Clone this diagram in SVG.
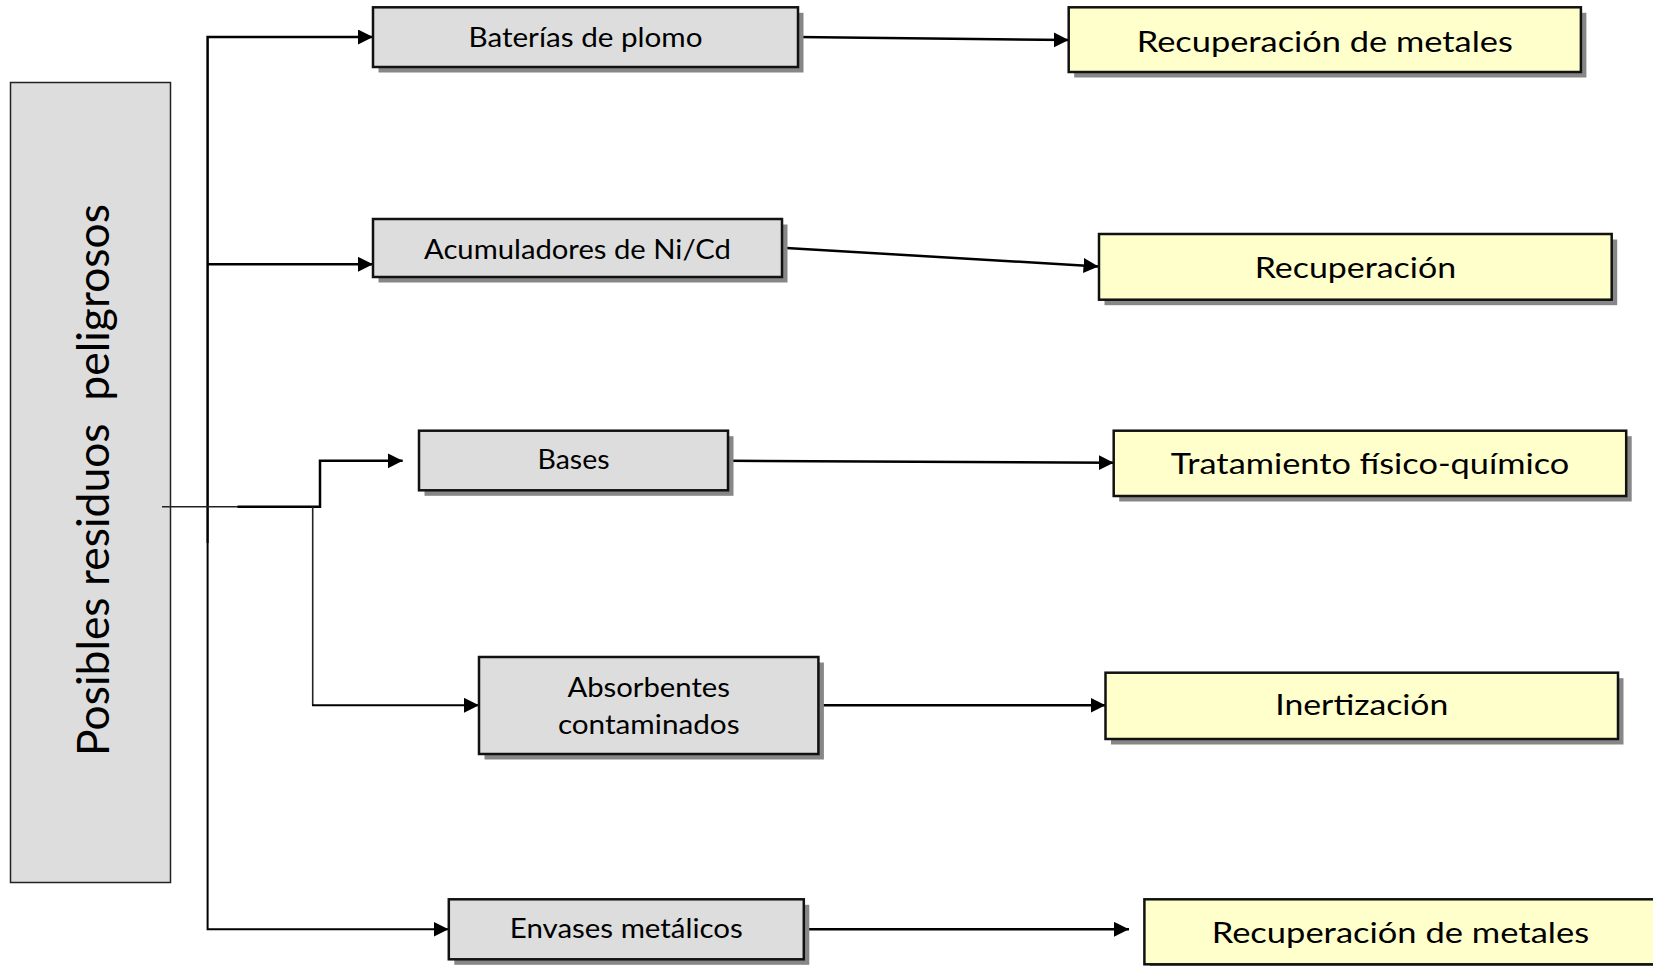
<svg xmlns="http://www.w3.org/2000/svg" width="1653" height="966" viewBox="0 0 1653 966">
  <style>
    .shadow { fill: #878787; }
    .src { fill: #dddddd; stroke: #111111; stroke-width: 2.5; }
    .dst { fill: #ffffcc; stroke: #111111; stroke-width: 2.5; }
    .root { fill: #dddddd; stroke: #222222; stroke-width: 1.5; }
    .t { font-family: Lato, Carlito, "Liberation Sans", sans-serif; fill: #000000; text-anchor: middle; }
    .ts { font-size: 26px; }
    .td { font-size: 29px; }
    .tr { font-size: 45px; }
    .wire { fill: none; stroke: #000000; stroke-width: 2.5; }
    .thin { fill: none; stroke: #222222; stroke-width: 1.6; }
  </style>
  <defs>
    <marker id="arrow" markerUnits="userSpaceOnUse" markerWidth="16" markerHeight="16" refX="15" refY="7.5" orient="auto">
      <path d="M0,0 L15,7.5 L0,15 Z" fill="#000000"/>
    </marker>
  </defs>

  <rect width="1653" height="966" fill="#ffffff"/>

  <!-- root column -->
  <g id="posibles-residuos">
    <rect class="root" x="10.5" y="82.5" width="160" height="800"/>
    <text class="t tr" xml:space="preserve" transform="translate(108.5,480) rotate(-90)" textLength="552" lengthAdjust="spacingAndGlyphs">Posibles residuos  peligrosos</text>
  </g>

  <!-- connectors -->
  <g id="connectors">
    <path class="wire" d="M207.6,543 V37 H373" marker-end="url(#arrow)"/>
    <path class="wire" d="M207.6,264.3 H373" marker-end="url(#arrow)"/>
    <path class="wire" d="M207.6,543 V730" style="stroke-width:2"/>
    <path class="wire" d="M207.6,730 V929.3 H448.5" style="stroke-width:2" marker-end="url(#arrow)"/>
    <path class="thin" d="M162,506.7 H238"/>
    <path class="wire" d="M237.5,506.7 H320 V460.8 H402.7" marker-end="url(#arrow)"/>
    <path class="thin" d="M312.7,506.7 V705.3"/>
    <path class="wire" d="M312,705.3 H479" style="stroke-width:2" marker-end="url(#arrow)"/>
    <path class="wire" d="M798,37 L1068.7,40" marker-end="url(#arrow)"/>
    <path class="wire" d="M782,247.7 L1098.5,266.5" marker-end="url(#arrow)"/>
    <path class="wire" d="M728,460.7 L1113.7,462.7" marker-end="url(#arrow)"/>
    <path class="wire" d="M818.4,705.3 H1105.5" marker-end="url(#arrow)"/>
    <path class="wire" d="M797,929.3 H1129" marker-end="url(#arrow)"/>
  </g>

  <!-- waste items -->
  <g id="baterias-plomo">
    <rect class="shadow" x="378.5" y="12.8" width="425" height="59.7"/>
    <rect class="src" x="373" y="7.3" width="425" height="59.7"/>
    <text class="t ts" x="585.5" y="46.7" textLength="234" lengthAdjust="spacingAndGlyphs">Baterías de plomo</text>
  </g>
  <g id="acumuladores-nicd">
    <rect class="shadow" x="378.5" y="224.5" width="409" height="58"/>
    <rect class="src" x="373" y="219" width="409" height="58"/>
    <text class="t ts" x="577.5" y="259.3" textLength="307" lengthAdjust="spacingAndGlyphs">Acumuladores de Ni/Cd</text>
  </g>
  <g id="bases">
    <rect class="shadow" x="424.5" y="436.2" width="309" height="59.6"/>
    <rect class="src" x="419" y="430.7" width="309" height="59.6"/>
    <text class="t ts" x="573.5" y="469.3" textLength="72" lengthAdjust="spacingAndGlyphs">Bases</text>
  </g>
  <g id="absorbentes-contaminados">
    <rect class="shadow" x="484.5" y="662.5" width="339.4" height="97"/>
    <rect class="src" x="479" y="657" width="339.4" height="97"/>
    <text class="t ts" x="648.7" y="696.7" textLength="162.5" lengthAdjust="spacingAndGlyphs">Absorbentes</text>
    <text class="t ts" x="648.7" y="734.3" textLength="181.6" lengthAdjust="spacingAndGlyphs">contaminados</text>
  </g>
  <g id="envases-metalicos">
    <rect class="shadow" x="454.3" y="904.8" width="355" height="60"/>
    <rect class="src" x="448.8" y="899.3" width="355" height="60"/>
    <text class="t ts" x="626.3" y="938.3" textLength="233" lengthAdjust="spacingAndGlyphs">Envases metálicos</text>
  </g>

  <!-- treatments -->
  <g id="recuperacion-metales-1">
    <rect class="shadow" x="1074.2" y="12.8" width="512.2" height="64.7"/>
    <rect class="dst" x="1068.7" y="7.3" width="512.2" height="64.7"/>
    <text class="t td" x="1324.8" y="51.7" textLength="376" lengthAdjust="spacingAndGlyphs">Recuperación de metales</text>
  </g>
  <g id="recuperacion">
    <rect class="shadow" x="1104.5" y="239.5" width="512.7" height="65.7"/>
    <rect class="dst" x="1099" y="234" width="512.7" height="65.7"/>
    <text class="t td" x="1355.4" y="278.3" textLength="201.4" lengthAdjust="spacingAndGlyphs">Recuperación</text>
  </g>
  <g id="tratamiento-fisico-quimico">
    <rect class="shadow" x="1119.2" y="436.2" width="512.5" height="65.3"/>
    <rect class="dst" x="1113.7" y="430.7" width="512.5" height="65.3"/>
    <text class="t td" x="1370" y="474" textLength="398.4" lengthAdjust="spacingAndGlyphs">Tratamiento físico-químico</text>
  </g>
  <g id="inertizacion">
    <rect class="shadow" x="1111" y="678.2" width="512.5" height="66.3"/>
    <rect class="dst" x="1105.5" y="672.7" width="512.5" height="66.3"/>
    <text class="t td" x="1361.8" y="715" textLength="173" lengthAdjust="spacingAndGlyphs">Inertización</text>
  </g>
  <g id="recuperacion-metales-2">
    <rect class="shadow" x="1149.9" y="904.8" width="512" height="65"/>
    <rect class="dst" x="1144.4" y="899.3" width="512" height="65"/>
    <text class="t td" x="1400.4" y="943.3" textLength="377.5" lengthAdjust="spacingAndGlyphs">Recuperación de metales</text>
  </g>
</svg>
